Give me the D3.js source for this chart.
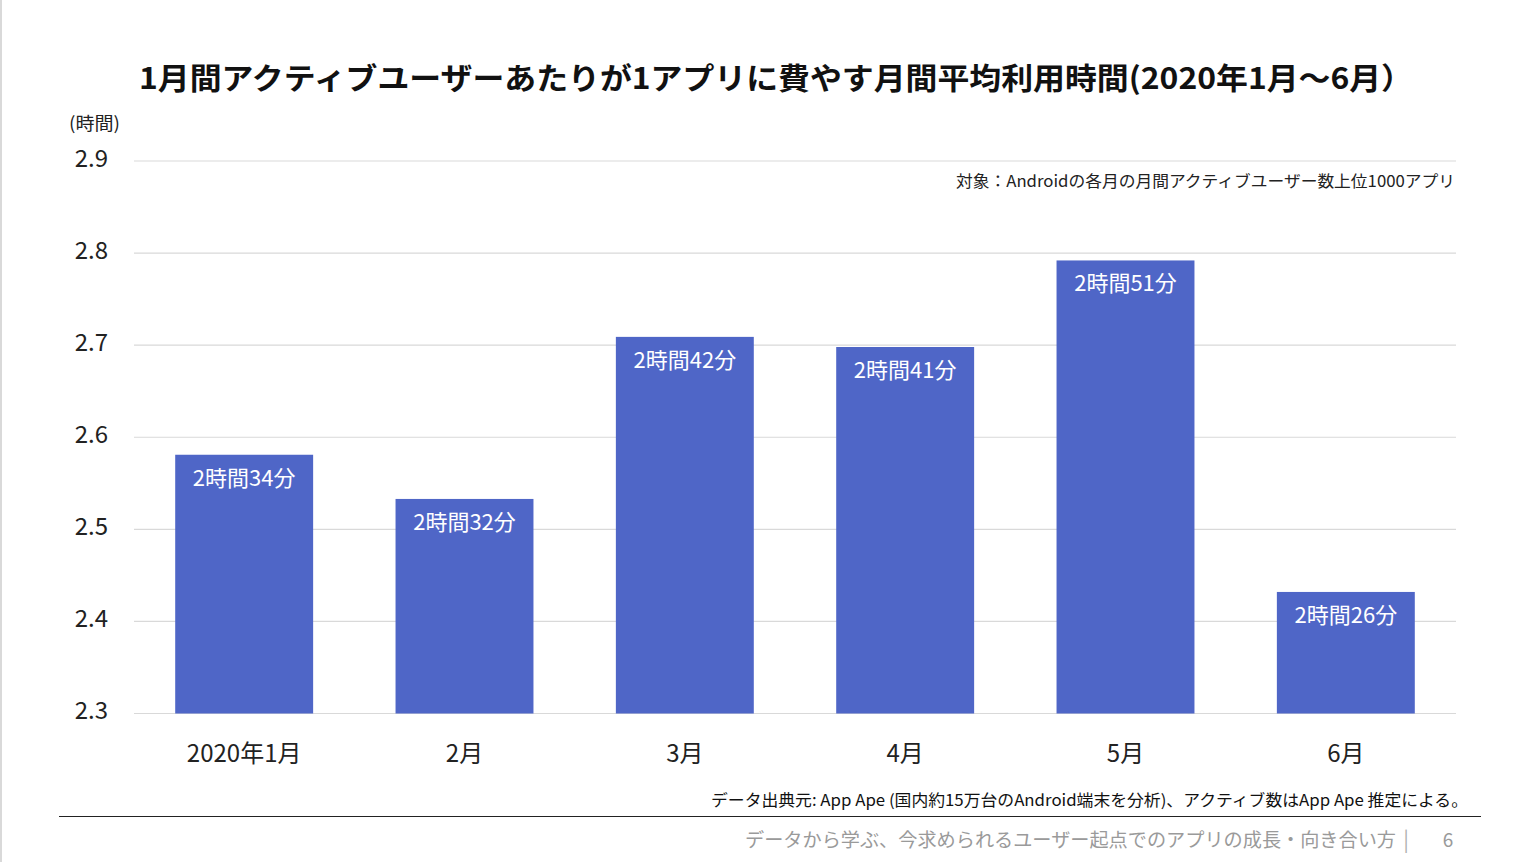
<!DOCTYPE html>
<html>
<head>
<meta charset="utf-8">
<script src="https://cdn.jsdelivr.net/npm/d3@7"></script>
<style>
html,body{margin:0;padding:0;background:#fff;}
svg{display:block;font-family:"Noto Sans CJK JP","Noto Sans",sans-serif;}
</style>
</head>
<body>
<svg id="chart" width="1536" height="862"></svg>
<script>
const categories = ["2020年1月","2月","3月","4月","5月","6月"];
const values = [2.581, 2.533, 2.709, 2.698, 2.792, 2.432];
const valueLabels = ["2時間34分","2時間32分","2時間42分","2時間41分","2時間51分","2時間26分"];
const yTicks = [2.3, 2.4, 2.5, 2.6, 2.7, 2.8, 2.9];

const svg = d3.select("#chart");
const W = 1536, H = 862;
const plotLeft = 134, plotRight = 1456, plotTop = 161, plotBottom = 713.5;

// left border
svg.append("line").attr("x1",1).attr("x2",1).attr("y1",0).attr("y2",H)
  .attr("stroke","#d9d9d9").attr("stroke-width",2);

const x = d3.scaleBand().domain(categories).range([plotLeft,plotRight]).paddingInner(0.374).paddingOuter(0.187);
const y = d3.scaleLinear().domain([2.3,2.9]).range([plotBottom,plotTop]);

// title
svg.append("text").attr("x",139).attr("y",89)
  .attr("font-size",30).attr("font-weight",700).attr("fill","#111")
  .attr("textLength",1274).attr("lengthAdjust","spacingAndGlyphs")
  .text("1月間アクティブユーザーあたりが1アプリに費やす月間平均利用時間(2020年1月～6月）");

// unit
svg.append("text").attr("x",69).attr("y",130).attr("font-size",18).attr("fill","#222")
  .attr("textLength",51).attr("lengthAdjust","spacingAndGlyphs")
  .text("(時間)");

// gridlines
svg.append("g").selectAll("line").data(yTicks).join("line")
  .attr("x1",plotLeft).attr("x2",plotRight)
  .attr("y1",d=>y(d)).attr("y2",d=>y(d))
  .attr("stroke","#d9d9d9").attr("stroke-width",1.2);

// y axis labels
const yAxis = d3.axisLeft(y).tickValues(yTicks).tickFormat(d3.format(".1f")).tickSize(0).tickPadding(0);
const yg = svg.append("g").attr("transform",`translate(108,0)`).call(yAxis);
yg.select(".domain").remove();
yg.selectAll("text").attr("font-size",24).attr("fill","#222")
  .attr("font-family",'"Noto Sans CJK JP","Noto Sans",sans-serif').attr("dy","0.22em");

// subtitle
svg.append("text").attr("x",1455).attr("y",187).attr("text-anchor","end")
  .attr("font-size",16).attr("fill","#222")
  .attr("textLength",499).attr("lengthAdjust","spacingAndGlyphs")
  .text("対象：Androidの各月の月間アクティブユーザー数上位1000アプリ");

// bars
svg.append("g").selectAll("rect").data(values).join("rect")
  .attr("x",(d,i)=>x(categories[i]))
  .attr("width",x.bandwidth())
  .attr("y",d=>y(d))
  .attr("height",d=>y(2.3)-y(d))
  .attr("fill","#4F66C7");

// bar labels
svg.append("g").selectAll("text").data(values).join("text")
  .attr("x",(d,i)=>x(categories[i])+x.bandwidth()/2)
  .attr("y",d=>y(d)+31)
  .attr("text-anchor","middle").attr("font-size",22).attr("fill","#fff")
  .text((d,i)=>valueLabels[i]);

// x axis labels
const xAxis = d3.axisBottom(x).tickSize(0).tickPadding(0);
const xg = svg.append("g").attr("transform",`translate(0,762)`).call(xAxis);
xg.select(".domain").remove();
xg.selectAll("text").attr("font-size",24).attr("fill","#222").attr("dy",0)
  .attr("font-family",'"Noto Sans CJK JP","Noto Sans",sans-serif');

// source
svg.append("text").attr("x",1468).attr("y",806).attr("text-anchor","end")
  .attr("font-size",16).attr("fill","#111")
  .attr("textLength",757).attr("lengthAdjust","spacingAndGlyphs")
  .text("データ出典元: App Ape (国内約15万台のAndroid端末を分析)、アクティブ数はApp Ape 推定による。");

// separator
svg.append("line").attr("x1",59).attr("x2",1481).attr("y1",816.5).attr("y2",816.5)
  .attr("stroke","#222").attr("stroke-width",1.2);

// footer
svg.append("text").attr("x",1396).attr("y",847).attr("text-anchor","end")
  .attr("font-size",19).attr("fill","#9a9a9a")
  .attr("textLength",651).attr("lengthAdjust","spacingAndGlyphs")
  .text("データから学ぶ、今求められるユーザー起点でのアプリの成長・向き合い方");
svg.append("text").attr("x",1406).attr("y",847).attr("text-anchor","middle")
  .attr("font-size",21).attr("fill","#b0b0b0").text("|");
svg.append("text").attr("x",1448).attr("y",847).attr("text-anchor","middle")
  .attr("font-size",19).attr("fill","#9a9a9a").text("6");
</script>
</body>
</html>
